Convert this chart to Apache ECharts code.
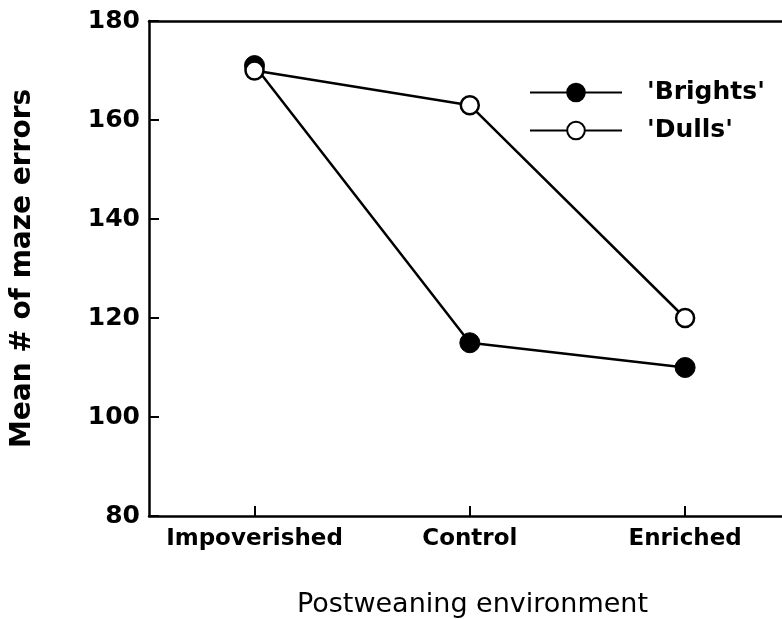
<!DOCTYPE html>
<html>
<head>
<meta charset="utf-8">
<script src="https://cdn.jsdelivr.net/npm/echarts@6/dist/echarts.min.js"></script>
<style>
  html, body { margin: 0; padding: 0; background: #fff; }
  #chart { width: 782px; height: 619px; }
</style>
</head>
<body>
<div id="chart"></div>
<script>
  // data
  var categories = ['Impoverished', 'Control', 'Enriched'];
  var brights = [171, 115, 110];
  var dulls = [170, 163, 120];
  var yTicks = [80, 100, 120, 140, 160, 180];

  var font = 'DejaVu Sans';
  var chart = echarts.init(document.getElementById('chart'));

  function pts(arr) {
    return arr.map(function (v, i) { return [i, v]; });
  }

  var option = {
    animation: false,
    backgroundColor: '#fff',
    grid: {
      left: 149,
      top: 21,
      right: 0,
      bottom: 103,
      outerBoundsMode: 'none',
      containLabel: false
    },
    legend: {
      orient: 'vertical',
      left: 524,
      top: 75,
      itemWidth: 92,
      itemHeight: 22,
      itemGap: 13,
      textStyle: { fontFamily: font, fontSize: 25, fontWeight: 'bold', color: '#000', padding: [0, 0, 0, 20] },
      data: ["'Brights'", "'Dulls'"]
    },
    xAxis: [{
      type: 'value',
      min: -0.49,
      max: 2.45,
      name: 'Postweaning environment',
      nameLocation: 'middle',
      nameGap: 75,
      nameTextStyle: { fontFamily: font, fontSize: 27, color: '#000', padding: [0, 0, 0, 14] },
      axisLine: { onZero: false, lineStyle: { color: '#000', width: 2.5 } },
      axisTick: {
        show: true, inside: true, length: 10,
        customValues: [0, 1, 2],
        lineStyle: { color: '#000', width: 2 }
      },
      axisLabel: {
        customValues: [0, 1, 2],
        formatter: function (v) { return categories[Math.round(v)]; },
        fontFamily: font, fontSize: 23, fontWeight: 'bold', color: '#000', margin: 12
      },
      splitLine: { show: false }
    }, {
      type: 'value',
      position: 'top',
      min: -0.49,
      max: 2.45,
      axisLine: { show: true, onZero: false, lineStyle: { color: '#000', width: 2.5 } },
      axisTick: { show: false },
      axisLabel: { show: false },
      splitLine: { show: false }
    }],
    yAxis: {
      type: 'value',
      min: yTicks[0],
      max: yTicks[yTicks.length - 1],
      interval: 20,
      name: 'Mean # of maze errors',
      nameLocation: 'middle',
      nameGap: 112,
      nameRotate: 90,
      nameTextStyle: { fontFamily: font, fontSize: 28, fontWeight: 'bold', color: '#000' },
      axisLine: { show: true, onZero: false, lineStyle: { color: '#000', width: 2.5 } },
      axisTick: { show: true, inside: true, length: 10, lineStyle: { color: '#000', width: 2 } },
      axisLabel: { fontFamily: font, fontSize: 25, fontWeight: 'bold', color: '#000', margin: 9 },
      splitLine: { show: false }
    },
    series: [{
      name: "'Brights'",
      type: 'line',
      data: pts(brights),
      symbol: 'circle',
      symbolSize: 20,
      lineStyle: { color: '#000', width: 2.5 },
      itemStyle: { color: '#000', borderColor: '#000', borderWidth: 1 }
    }, {
      name: "'Dulls'",
      type: 'line',
      data: pts(dulls),
      symbol: 'circle',
      symbolSize: 18,
      lineStyle: { color: '#000', width: 2.5 },
      itemStyle: { color: '#fff', borderColor: '#000', borderWidth: 2.5 }
    }]
  };

  chart.setOption(option);
</script>
</body>
</html>
